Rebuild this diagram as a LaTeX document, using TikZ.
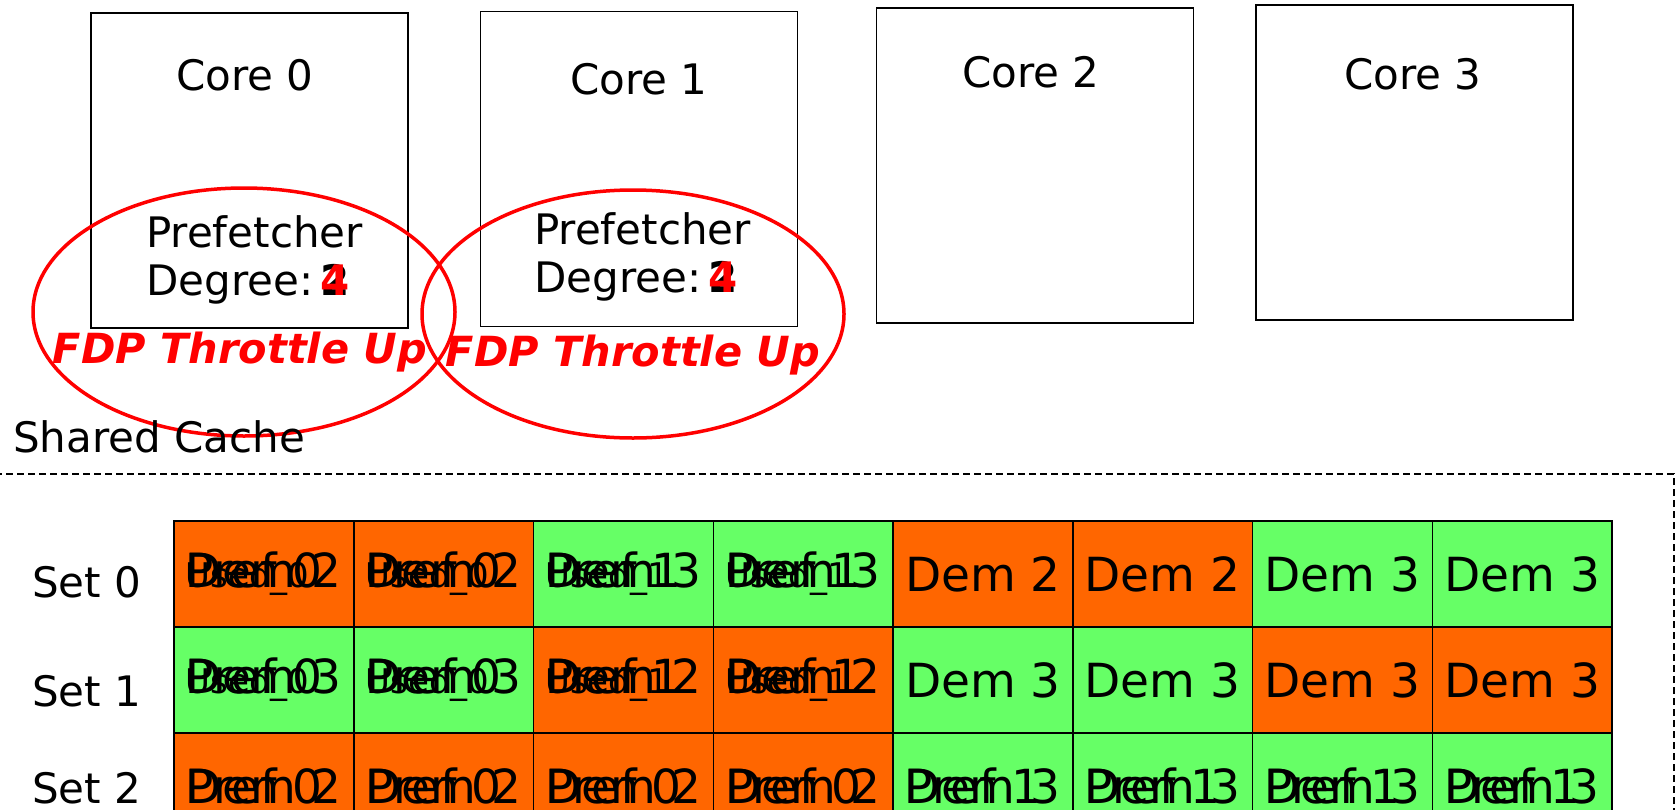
\documentclass[tikz,border=0pt]{standalone}
\usepackage{fontspec}
\setmainfont{DejaVu Sans}
\usetikzlibrary{positioning,shapes.geometric}
\definecolor{demorange}{HTML}{FF6600}
\definecolor{demgreen}{HTML}{66FF66}

% degree changes from 2 to 4
\newcommand{\degreeup}{\makebox[0pt][l]{\textbf{2}}\textcolor{red}{\textbf{4}}}
% several states of one cache line, printed on top of each other
\newcommand{\cellstack}[3]{\makebox[156pt][l]{\rlap{#1}\rlap{#2}{\fontsize{34}{40}\selectfont #3}}}
\newcommand{\cellpair}[2]{\makebox[156pt][l]{\rlap{#1}#2}}

\begin{document}
\begin{tikzpicture}[x=1pt,y=-1pt]
\tikzstyle{core}=[rectangle, draw=black, line width=1.5pt, minimum width=317pt, minimum height=315pt, inner sep=0pt]
\tikzstyle{big}=[font=\fontsize{42}{48}\selectfont]
\tikzstyle{throttle}=[ellipse, draw=red, line width=3.5pt, minimum width=422pt, minimum height=248pt, inner sep=0pt]
\tikzstyle{fdp}=[text=red, font=\fontsize{41.5}{48}\selectfont\bfseries\itshape]
\tikzstyle{cell}=[rectangle, draw=black, line width=1.5pt, minimum width=179.75pt, minimum height=106pt, inner sep=0pt, font=\fontsize{47}{56}\selectfont]

\useasboundingbox (0,0) rectangle (1675,809);

% cores
\node[core] at (249.5,170.5) (core0) {};
\node[core] at (639,169) (core1) {};
\node[core] at (1035,165.5) (core2) {};
\node[core] at (1414.5,162.5) (core3) {};
\node[big] at (245,75) (name0) {Core 0};
\node[big] at (639,79) (name1) {Core 1};
\node[big] at (1031,72) (name2) {Core 2};
\node[big] at (1413,74) (name3) {Core 3};

\node[big, align=left, anchor=west, inner sep=0pt] at (146,260) (pf0) {Prefetcher\\Degree:\,\degreeup};
\node[big, align=left, anchor=west, inner sep=0pt] at (534,256.5) (pf1) {Prefetcher\\Degree:\,\degreeup};

% throttling
\node[throttle] at (244,312) (ring0) {};
\node[throttle] at (633,314) (ring1) {};
\node[fdp] at (240,352) (up0) {FDP Throttle Up};
\node[fdp] at (633,355) (up1) {FDP Throttle Up};

% shared cache
\node[big, anchor=west, inner sep=0pt] at (13,437) (shared) {Shared Cache};
\node[rectangle, draw=black, line width=2pt, dash pattern=on 7pt off 4pt, minimum width=1675pt, minimum height=426pt] at (836,687) (cache) {};

\node[big, anchor=west, inner sep=0pt] at (32,582) (set0) {Set 0};
\node[big, anchor=west, inner sep=0pt] at (32,691) (set1) {Set 1};
\node[big, anchor=west, inner sep=0pt] at (32,788) (set2) {Set 2};

\foreach \c/\shade/\txt in {0/demorange/{\cellstack{Dem 2}{Pref 0}{Used\_0}}, 1/demorange/{\cellstack{Dem 2}{Pref 0}{Used\_0}},
    2/demgreen/{\cellstack{Dem 3}{Pref 1}{Used\_1}}, 3/demgreen/{\cellstack{Dem 3}{Pref 1}{Used\_1}},
    4/demorange/{Dem 2}, 5/demorange/{Dem 2}, 6/demgreen/{Dem 3}, 7/demgreen/{Dem 3}}
  \node[cell, fill=\shade] at ({174+179.75*(\c+0.5)},574) (c0\c) {\txt};

\foreach \c/\shade/\txt in {0/demgreen/{\cellstack{Dem 3}{Pref 0}{Used\_0}}, 1/demgreen/{\cellstack{Dem 3}{Pref 0}{Used\_0}},
    2/demorange/{\cellstack{Dem 2}{Pref 1}{Used\_1}}, 3/demorange/{\cellstack{Dem 2}{Pref 1}{Used\_1}},
    4/demgreen/{Dem 3}, 5/demgreen/{Dem 3}, 6/demorange/{Dem 3}, 7/demorange/{Dem 3}}
  \node[cell, fill=\shade] at ({174+179.75*(\c+0.5)},680) (c1\c) {\txt};

\foreach \c/\shade/\txt in {0/demorange/{\cellpair{Pref 0}{Dem 2}}, 1/demorange/{\cellpair{Pref 0}{Dem 2}},
    2/demorange/{\cellpair{Pref 0}{Dem 2}}, 3/demorange/{\cellpair{Pref 0}{Dem 2}},
    4/demgreen/{\cellpair{Pref 1}{Dem 3}}, 5/demgreen/{\cellpair{Pref 1}{Dem 3}},
    6/demgreen/{\cellpair{Pref 1}{Dem 3}}, 7/demgreen/{\cellpair{Pref 1}{Dem 3}}}
  \node[cell, fill=\shade] at ({174+179.75*(\c+0.5)},786) (c2\c) {\txt};
\end{tikzpicture}
\end{document}
